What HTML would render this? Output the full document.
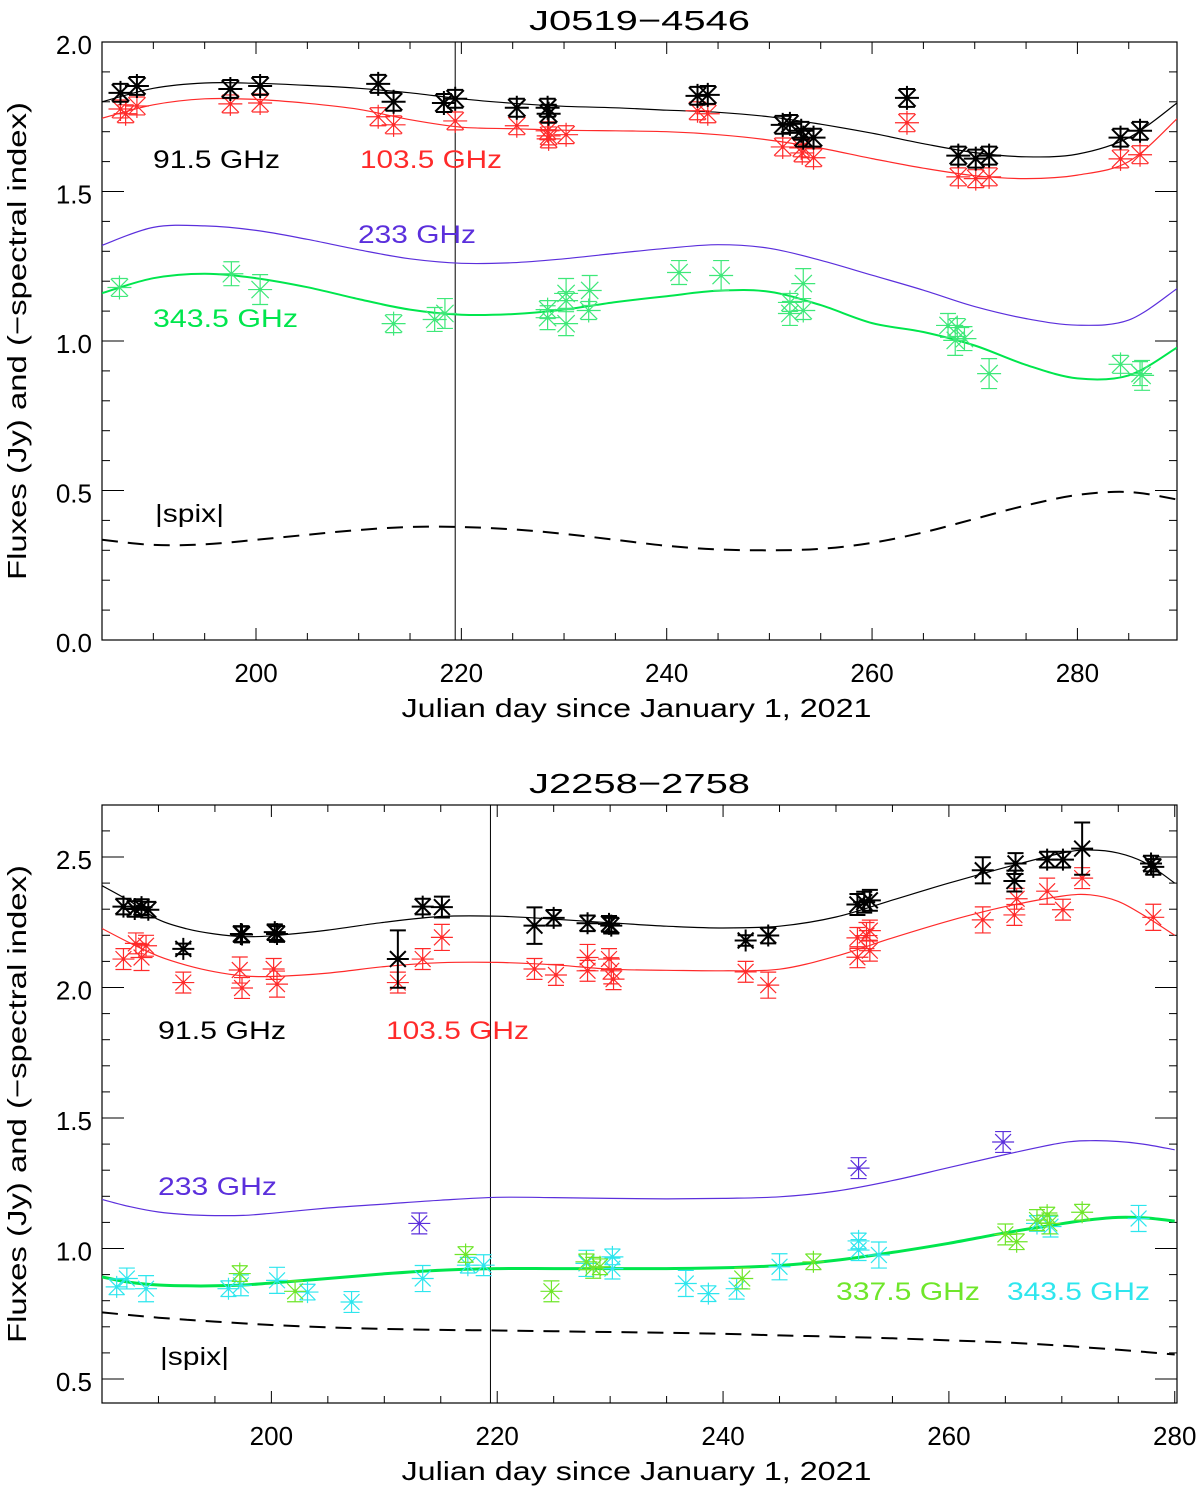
<!DOCTYPE html>
<html><head><meta charset="utf-8"><style>
html,body{margin:0;padding:0;background:#fff;}
svg{display:block;font-family:"Liberation Sans",sans-serif;}
</style></head><body>
<svg id="fig" width="1200" height="1488" viewBox="0 0 1200 1488" xmlns="http://www.w3.org/2000/svg"></svg>
<script>
// ===== Top panel data (J0519-4546) =====
const topBlackDay=[186.8,188.4,197.5,200.4,211.9,213.4,218.3,219.4,225.4,228.4,228.5,243.0,244.0,251.3,252.0,253.1,253.3,254.3,263.4,268.4,270.1,271.4,284.2,286.1];
const topBlackVal=[1.830,1.853,1.843,1.853,1.860,1.800,1.796,1.810,1.780,1.780,1.760,1.820,1.823,1.723,1.726,1.703,1.680,1.680,1.813,1.620,1.610,1.620,1.680,1.703];
const topRedDay=[186.8,187.3,188.4,197.5,200.4,211.9,213.4,219.4,225.4,228.4,228.5,228.5,230.2,243.0,244.0,251.3,253.1,253.2,254.3,263.4,268.4,270.1,271.4,284.2,286.1];
const topRedVal=[1.776,1.760,1.786,1.793,1.796,1.750,1.723,1.736,1.720,1.703,1.686,1.676,1.690,1.770,1.760,1.649,1.646,1.629,1.613,1.730,1.549,1.543,1.549,1.609,1.623];
const topGreenDay=[186.7,197.6,200.4,213.4,217.4,218.4,228.4,228.4,230.2,230.2,230.2,232.5,232.4,241.2,245.3,252.0,252.0,253.3,253.3,267.4,268.1,268.3,269.0,271.4,284.2,286.1,286.3];
const topGreenVal=[1.179,1.225,1.172,1.058,1.072,1.092,1.105,1.078,1.159,1.135,1.058,1.169,1.102,1.229,1.219,1.129,1.092,1.192,1.102,1.052,1.002,1.045,1.008,0.891,0.922,0.891,0.885];
const topErr=[0.03,0.04,0.05];
const topFitDay=[185,190,195,200,205,210,215,220,225,230,235,240,245,250,255,260,265,270,275,280,285,289.7];
const topFitBlack=[1.80,1.845,1.863,1.862,1.855,1.845,1.83,1.81,1.795,1.785,1.78,1.772,1.765,1.75,1.725,1.695,1.66,1.63,1.616,1.625,1.68,1.796];
const topFitRed=[1.745,1.79,1.81,1.808,1.795,1.775,1.74,1.715,1.71,1.705,1.703,1.70,1.69,1.672,1.645,1.61,1.578,1.553,1.543,1.555,1.60,1.743];
const topFitPurple=[1.32,1.38,1.385,1.37,1.34,1.305,1.275,1.26,1.262,1.275,1.293,1.31,1.322,1.31,1.27,1.22,1.17,1.115,1.075,1.053,1.07,1.175];
const topFitGreen=[1.16,1.21,1.225,1.21,1.18,1.14,1.105,1.088,1.09,1.105,1.13,1.15,1.168,1.165,1.12,1.06,1.03,0.985,0.92,0.875,0.885,0.978];
const topSpix=[0.335,0.318,0.32,0.335,0.352,0.368,0.378,0.378,0.37,0.355,0.335,0.315,0.303,0.30,0.305,0.325,0.36,0.405,0.45,0.485,0.495,0.47];
const topXTicks=[200,220,240,260,280];
const topYTicks=[0.0,0.5,1.0,1.5,2.0];

// ===== Bottom panel data (J2258-2758) =====
const botBlackDay=[186.9,187.9,188.5,189.1,192.2,197.3,197.4,200.3,200.5,211.2,213.4,215.1,223.3,225.0,228.0,229.9,230.1,242.0,244.0,251.9,252.5,253.0,263.0,265.9,265.8,268.7,270.1,271.8,277.9,278.1];
const botBlackVal=[2.310,2.301,2.308,2.298,2.148,2.205,2.203,2.212,2.205,2.109,2.310,2.308,2.237,2.267,2.246,2.244,2.237,2.180,2.199,2.318,2.327,2.334,2.449,2.475,2.408,2.490,2.490,2.532,2.475,2.462];
const botBlackErr=[0.03,0.03,0.03,0.03,0.02,0.03,0.03,0.03,0.03,0.11,0.03,0.04,0.07,0.03,0.03,0.03,0.03,0.02,0.03,0.04,0.04,0.04,0.05,0.04,0.04,0.03,0.03,0.1,0.03,0.03];
const botRedDay=[186.9,188.0,188.5,188.9,192.2,197.2,197.4,200.2,200.5,211.2,213.4,215.1,223.3,225.2,228.0,228.0,229.9,230.1,230.3,242.0,244.0,251.9,251.9,252.7,253.0,253.0,263.0,265.8,266.0,268.7,270.1,271.8,278.1];
const botRedVal=[2.109,2.169,2.115,2.160,2.019,2.067,1.998,2.071,2.013,2.019,2.109,2.192,2.071,2.048,2.115,2.064,2.109,2.064,2.032,2.060,2.009,2.190,2.116,2.199,2.218,2.141,2.259,2.278,2.340,2.369,2.298,2.419,2.269];
const botPurpleDay=[213.1,252.0,264.8];
const botPurpleVal=[1.096,1.308,1.408];
const botLimeDay=[197.2,202.1,217.2,224.8,227.9,228.5,229.1,241.7,248.0,265.0,266.0,267.8,268.7,268.9,271.8];
const botLimeVal=[0.904,0.836,0.977,0.836,0.949,0.926,0.930,0.885,0.949,1.054,1.026,1.109,1.128,1.096,1.139];
const botCyanDay=[186.3,187.2,188.9,196.2,197.3,200.5,203.2,207.1,213.4,217.4,218.8,227.9,230.2,230.2,236.7,238.7,241.2,245.0,252.0,252.0,253.8,267.8,269.0,276.8];
const botCyanVal=[0.853,0.885,0.846,0.846,0.859,0.878,0.833,0.795,0.885,0.936,0.936,0.943,0.968,0.923,0.866,0.827,0.846,0.930,1.029,0.994,0.975,1.096,1.084,1.115];
const botFitDay=[185,187.5,190,192.5,195,197.5,200,205,210,215,220,225,230,235,240,245,250,255,260,265,270,272.5,275,277.5,280];
const botFitBlack=[2.39,2.33,2.26,2.225,2.205,2.195,2.198,2.22,2.25,2.272,2.273,2.262,2.248,2.235,2.228,2.235,2.27,2.335,2.40,2.46,2.515,2.527,2.515,2.475,2.40];
const botFitRed=[2.226,2.17,2.12,2.085,2.06,2.045,2.042,2.055,2.08,2.095,2.096,2.087,2.07,2.066,2.064,2.07,2.12,2.19,2.255,2.31,2.35,2.355,2.33,2.27,2.20];
const botFitPurple=[1.188,1.16,1.14,1.13,1.126,1.127,1.135,1.155,1.17,1.185,1.196,1.195,1.192,1.19,1.192,1.198,1.22,1.26,1.31,1.36,1.405,1.413,1.41,1.398,1.378];
const botFitGreen=[0.891,0.87,0.86,0.857,0.857,0.86,0.868,0.885,0.903,0.917,0.923,0.923,0.923,0.923,0.926,0.935,0.955,0.985,1.02,1.06,1.095,1.11,1.119,1.117,1.105];
const botSpix=[0.755,0.745,0.735,0.727,0.72,0.713,0.707,0.698,0.692,0.688,0.686,0.683,0.68,0.677,0.673,0.667,0.662,0.656,0.648,0.64,0.628,0.62,0.612,0.603,0.594];
const botXTicks=[200,220,240,260,280];
const botYTicks=[0.5,1.0,1.5,2.0,2.5];

const NS="http://www.w3.org/2000/svg";
const svg=document.getElementById('fig');
function mk(tag,attrs,parent){const e=document.createElementNS(NS,tag);for(const k in attrs)e.setAttribute(k,attrs[k]);(parent||svg).appendChild(e);return e;}

function smoothPath(p){
  let d='M'+p[0][0].toFixed(1)+','+p[0][1].toFixed(1);
  for(let i=0;i<p.length-1;i++){
    const p0=p[Math.max(0,i-1)],p1=p[i],p2=p[i+1],p3=p[Math.min(p.length-1,i+2)];
    const c1x=p1[0]+(p2[0]-p0[0])/6,c1y=p1[1]+(p2[1]-p0[1])/6;
    const c2x=p2[0]-(p3[0]-p1[0])/6,c2y=p2[1]-(p3[1]-p1[1])/6;
    d+=`C${c1x.toFixed(1)},${c1y.toFixed(1)} ${c2x.toFixed(1)},${c2y.toFixed(1)} ${p2[0].toFixed(1)},${p2[1].toFixed(1)}`;
  }
  return d;
}

function panel(cfg){
  const g=mk('g',{});
  
  
  const X=d=>cfg.x0+(d-cfg.d0)/(cfg.d1-cfg.d0)*(cfg.x1-cfg.x0);
  const Y=v=>cfg.y1-(v-cfg.v0)/(cfg.v1-cfg.v0)*(cfg.y1-cfg.y0);
  const cp=mk('clipPath',{id:'clip-'+cfg.name},g);
  mk('rect',{x:cfg.x0,y:cfg.y0,width:cfg.x1-cfg.x0,height:cfg.y1-cfg.y0},cp);
  const fr=mk('rect',{x:cfg.x0,y:cfg.y0,width:cfg.x1-cfg.x0,height:cfg.y1-cfg.y0,fill:'none',stroke:'#000','stroke-width':1.2},g);
  
  
  for(let d=Math.ceil(cfg.d0/5)*5; d<=cfg.d1+1e-6; d+=5){
    const major=(d%20===0); const len=major?12:7; const x=X(d);
    mk('line',{x1:x,x2:x,y1:cfg.y1,y2:cfg.y1-len,stroke:'#000','stroke-width':1},g);
    mk('line',{x1:x,x2:x,y1:cfg.y0,y2:cfg.y0+len,stroke:'#000','stroke-width':1},g);
  }
  cfg.xt.forEach(d=>{
    const t=mk('text',{x:X(d),y:cfg.y1+42,'text-anchor':'middle','font-size':26,fill:'#000'},g);
    t.textContent=String(d);
    
    
  });
  const nMin=Math.ceil(cfg.v0*10-1e-6), nMax=Math.floor(cfg.v1*10+1e-6);
  for(let n=nMin;n<=nMax;n++){
    const v=n/10; const major=(n%5===0); const len=major?22:8; const y=Y(v);
    mk('line',{x1:cfg.x0,x2:cfg.x0+len,y1:y,y2:y,stroke:'#000','stroke-width':1},g);
    mk('line',{x1:cfg.x1,x2:cfg.x1-len,y1:y,y2:y,stroke:'#000','stroke-width':1},g);
  }
  cfg.yt.forEach(v=>{
    const t=mk('text',{x:92,y:Y(v)+12,'text-anchor':'end','font-size':26,fill:'#000'},g);
    t.textContent=v.toFixed(1);
    
    
  });
  const vl=mk('line',{x1:X(cfg.vline),x2:X(cfg.vline),y1:cfg.y0,y2:cfg.y1,stroke:'#000','stroke-width':1},g);
  
  
  cfg.fits.forEach(f=>{
    const pts=f.days.map((d,i)=>[X(d),Y(f.vals[i])]);
    const p=mk('path',{d:smoothPath(pts),fill:'none',stroke:f.color,'stroke-width':f.w,'stroke-dasharray':f.dash||'none','clip-path':`url(#clip-${cfg.name})`},g);
    
    
  });
  cfg.series.forEach(s=>{
    const sg=mk('g',{stroke:s.color,'stroke-width':s.w,fill:'none'},g);
    
    
    s.days.forEach((d,i)=>{
      const x=X(d), y=Y(s.vals[i]); const e=s.err[i%s.err.length];
      const yt=Y(s.vals[i]+e), yb=Y(s.vals[i]-e); const r=s.r, c=8;
      const pg=mk('g',{},sg);
      
      
      mk('path',{d:`M${x},${yt}V${yb}M${x-c},${yt}H${x+c}M${x-c},${yb}H${x+c}M${x-r},${y}H${x+r}M${x},${y-r}V${y+r}M${x-r*0.72},${y-r*0.72}L${x+r*0.72},${y+r*0.72}M${x-r*0.72},${y+r*0.72}L${x+r*0.72},${y-r*0.72}`},pg);
      mk('circle',{cx:x,cy:y,r:1.8,fill:s.color,stroke:'none'},pg);
    });
  });
  cfg.labels.forEach(l=>{
    const t=mk('text',{x:l.x,y:l.y,'font-size':25,fill:l.color,textLength:l.len,lengthAdjust:'spacingAndGlyphs'},g);
    t.textContent=l.text;
    
    
  });
  const tt=mk('text',{x:(cfg.x0+cfg.x1)/2,y:cfg.y0-12,'text-anchor':'middle','font-size':28,fill:'#000',textLength:221,lengthAdjust:'spacingAndGlyphs'},g);
  tt.textContent=cfg.title;
  
  
  const xl=mk('text',{x:(cfg.x0+cfg.x1)/2-3,y:cfg.y1+77,'text-anchor':'middle','font-size':26,fill:'#000',textLength:470,lengthAdjust:'spacingAndGlyphs'},g);
  xl.textContent='Julian day since January 1, 2021';
  
  
  const cy=(cfg.y0+cfg.y1)/2;
  const yl=mk('text',{x:26,y:cy,'text-anchor':'middle','font-size':26,fill:'#000',transform:`rotate(-90 26 ${cy})`,textLength:478,lengthAdjust:'spacingAndGlyphs'},g);
  yl.textContent='Fluxes (Jy) and (\u2212spectral index)';
  
  
}

const BLACK='#000', RED='#ff2a2a', PURPLE='#5b2fdc', GREEN='#00e64d', GREENPT='#3ee879', LIME='#6fe62a', CYAN='#2ee6ee';

panel({name:'panel-j0519',title:'J0519\u22124546',x0:102,x1:1177,y0:42,y1:640,d0:185.0,d1:289.7,v0:0,v1:2.0,
  xt:topXTicks,yt:topYTicks,vline:219.4,
  fits:[
    {name:'fit-91-5ghz',days:topFitDay,vals:topFitBlack,color:BLACK,w:1.2},
    {name:'fit-103-5ghz',days:topFitDay,vals:topFitRed,color:RED,w:1.2},
    {name:'fit-233ghz',days:topFitDay,vals:topFitPurple,color:PURPLE,w:1.2},
    {name:'fit-343-5ghz',days:topFitDay,vals:topFitGreen,color:GREEN,w:2},
    {name:'spix-curve',days:topFitDay,vals:topSpix,color:BLACK,w:2,dash:'16 10'}],
  series:[
    {name:'series-343-5ghz',days:topGreenDay,vals:topGreenVal,err:topErr,color:GREENPT,w:1.2,r:12},
    {name:'series-103-5ghz',days:topRedDay,vals:topRedVal,err:[0.03],color:RED,w:1.2,r:12},
    {name:'series-91-5ghz',days:topBlackDay,vals:topBlackVal,err:[0.03],color:BLACK,w:2,r:12}],
  labels:[
    {name:'label-91-5ghz',text:'91.5 GHz',x:153,y:168,color:BLACK,len:127},
    {name:'label-103-5ghz',text:'103.5 GHz',x:360,y:168,color:RED,len:142},
    {name:'label-233ghz',text:'233 GHz',x:358,y:243,color:PURPLE,len:118},
    {name:'label-343-5ghz',text:'343.5 GHz',x:153,y:327,color:GREEN,len:145},
    {name:'label-spix',text:'|spix|',x:155,y:522,color:BLACK,len:69}]
});

panel({name:'panel-j2258',title:'J2258\u22122758',x0:102,x1:1177,y0:805,y1:1403,d0:185.0,d1:280.2,v0:0.5-(1403-1379)/261,v1:2.5+(857-805)/261,
  xt:botXTicks,yt:botYTicks,vline:219.4,
  fits:[
    {name:'fit-91-5ghz',days:botFitDay,vals:botFitBlack,color:BLACK,w:1.2},
    {name:'fit-103-5ghz',days:botFitDay,vals:botFitRed,color:RED,w:1.2},
    {name:'fit-233ghz',days:botFitDay,vals:botFitPurple,color:PURPLE,w:1.2},
    {name:'fit-343-5ghz',days:botFitDay,vals:botFitGreen,color:GREEN,w:3},
    {name:'spix-curve',days:botFitDay,vals:botSpix,color:BLACK,w:2,dash:'16 10'}],
  series:[
    {name:'series-343-5ghz',days:botCyanDay,vals:botCyanVal,err:[0.03,0.04,0.05],color:CYAN,w:1.2,r:11},
    {name:'series-337-5ghz',days:botLimeDay,vals:botLimeVal,err:[0.03,0.04],color:LIME,w:1.2,r:11},
    {name:'series-233ghz',days:botPurpleDay,vals:botPurpleVal,err:[0.04],color:PURPLE,w:1.2,r:11},
    {name:'series-103-5ghz',days:botRedDay,vals:botRedVal,err:[0.04,0.04,0.05],color:RED,w:1.2,r:11},
    {name:'series-91-5ghz',days:botBlackDay,vals:botBlackVal,err:botBlackErr,color:BLACK,w:2,r:11}],
  labels:[
    {name:'label-91-5ghz',text:'91.5 GHz',x:158,y:1039,color:BLACK,len:128},
    {name:'label-103-5ghz',text:'103.5 GHz',x:386,y:1039,color:RED,len:143},
    {name:'label-233ghz',text:'233 GHz',x:158,y:1195,color:PURPLE,len:119},
    {name:'label-337-5ghz',text:'337.5 GHz',x:836,y:1300,color:LIME,len:144},
    {name:'label-343-5ghz',text:'343.5 GHz',x:1007,y:1300,color:CYAN,len:143},
    {name:'label-spix',text:'|spix|',x:160,y:1365,color:BLACK,len:69}]
});
</script>
</body></html>
